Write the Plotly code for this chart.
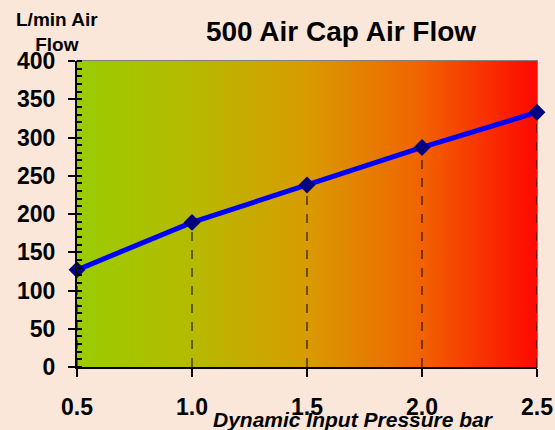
import plotly.graph_objects as go

pressure = [0.5, 1.0, 1.5, 2.0, 2.5]
air_flow = [127, 189, 238, 287, 333]
x_ticks = [0.5, 1.0, 1.5, 2.0, 2.5]
x_tick_labels = ["0.5", "1.0", "1.5", "2.0", "2.5"]
y_ticks = [0, 50, 100, 150, 200, 250, 300, 350, 400]

title = "500 Air Cap Air Flow"
y_title = "L/min Air<br>Flow"
x_title = "Dynamic Input Pressure bar"

x_range = [0.5, 2.5]
y_range = [0, 400]

FONT = "Liberation Sans, Arial, sans-serif"
W, H = 555, 430
L, R, T, B = 77, 18, 61, 63
PW, PH = W - L - R, H - T - B


def px_x(px):
    return (px - L) / PW


def px_y(py):
    return (H - B - py) / PH


fig = go.Figure()

# gradient background of plot area
fig.add_trace(go.Scatter(
    x=[x_range[0], x_range[1], x_range[1], x_range[0], x_range[0]],
    y=[y_range[0], y_range[0], y_range[1], y_range[1], y_range[0]],
    mode="lines", line=dict(width=0), fill="toself",
    fillgradient=dict(type="horizontal", colorscale=[
        [0, "#99CC00"], [0.25, "#B6BA00"], [0.5, "#D89B00"],
        [0.75, "#F16200"], [1, "#FF0800"]]),
    hoverinfo="skip", showlegend=False))

# drop lines from each point to the x axis
dx, dy = [], []
for p, f in zip(pressure, air_flow):
    dx += [p, p, None]
    dy += [0, f, None]
fig.add_trace(go.Scatter(x=dx, y=dy, mode="lines",
                         line=dict(color="black", width=1, dash="dash"),
                         hoverinfo="skip", showlegend=False))

fig.add_trace(go.Scatter(
    x=pressure, y=air_flow, mode="lines+markers",
    line=dict(color="#0000FF", width=5),
    marker=dict(symbol="diamond", size=13, color="#000080"),
    cliponaxis=False, showlegend=False))

fig.update_layout(
    width=W, height=H,
    margin=dict(l=L, r=R, t=T, b=B, autoexpand=False),
    paper_bgcolor="#FBE7D9", plot_bgcolor="rgba(0,0,0,0)",
    title=dict(text=title, x=px_x(341), xref="paper", xanchor="center",
               y=1 - 31 / H, yref="container", yanchor="middle",
               font=dict(family=FONT, size=28, color="black", weight="bold")),
    font=dict(family=FONT, color="black"),
)

fig.update_xaxes(
    range=x_range, tickvals=x_ticks, ticktext=x_tick_labels,
    showgrid=False, zeroline=False, automargin=False,
    showline=True, linecolor="black", linewidth=2,
    ticks="outside", ticklen=8, tickcolor="black", tickwidth=2,
    ticklabelstandoff=10,
    tickfont=dict(family=FONT, size=23, color="black", weight="bold"))

fig.update_yaxes(
    range=y_range, tickvals=y_ticks,
    showgrid=True, gridcolor="black", gridwidth=1, griddash="dash",
    zeroline=False, automargin=False,
    showline=True, linecolor="black", linewidth=2,
    ticks="outside", ticklen=7, tickcolor="black", tickwidth=2,
    ticklabelstandoff=8,
    minor=dict(ticks="inside", dtick=10, ticklen=5, tickcolor="black",
               showgrid=False),
    tickfont=dict(family=FONT, size=23, color="black", weight="bold"))

# gray frame on top/right
fig.add_shape(type="rect", xref="paper", yref="paper", x0=0, y0=0, x1=1, y1=1,
              line=dict(color="#808080", width=2), layer="below")

fig.add_annotation(text=y_title, xref="paper", yref="paper",
                   x=px_x(57), y=px_y(32), showarrow=False, align="center",
                   xanchor="center", yanchor="middle",
                   font=dict(family=FONT, size=19, color="black", weight="bold"))
fig.add_annotation(text="<i>" + x_title + "</i>", xref="paper", yref="paper",
                   x=px_x(353), y=px_y(419), showarrow=False,
                   xanchor="center", yanchor="middle",
                   font=dict(family=FONT, size=21, color="black", weight="bold"))

fig.write_html("out.html",
               config={"displayModeBar": False},
               post_script="document.body.style.margin='0';"
                           "document.body.style.overflow='hidden';")
